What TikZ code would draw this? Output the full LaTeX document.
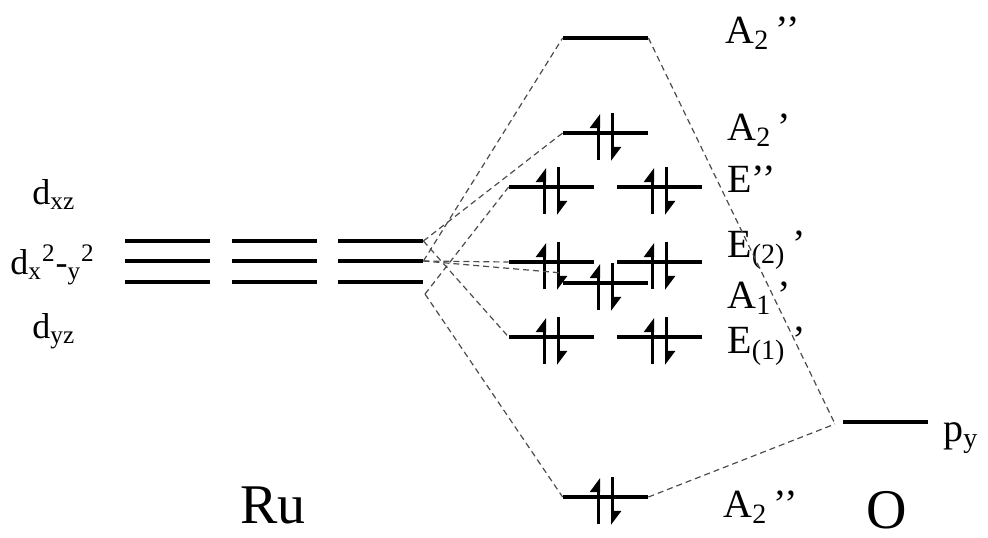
\documentclass[tikz,border=0pt]{standalone}
\usepackage{fontspec}
\setmainfont{Liberation Serif}
\usetikzlibrary{arrows.meta,calc,positioning}

\begin{document}
\begin{tikzpicture}[x=0.5pt, y=-0.5pt]
    \tikzset{
      lvl/.style={fill, inner sep=0pt, minimum width=42.5pt, minimum height=2.4pt},
      spin/.style={line width=1.8pt, -{Triangle[left, length=6pt, width=8.5pt]}},
      mix/.style={dash pattern=on 3pt off 2pt, line width=0.6pt, black!70},
      lab/.style={anchor=base west, inner sep=0pt, font=\fontsize{20}{24}\selectfont},
      orb/.style={anchor=base west, inner sep=0pt, font=\fontsize{18}{22}\selectfont},
      atom/.style={anchor=base west, inner sep=0pt, font=\fontsize{28}{32}\selectfont},
    }
    \useasboundingbox (0,0) rectangle (988,537);

    % Ru d levels
    \node[lvl] (rut1) at (167.5,241) {};
    \node[lvl] (rum1) at (167.5,261) {};
    \node[lvl] (rub1) at (167.5,282) {};
    \node[lvl] (rut2) at (274.5,241) {};
    \node[lvl] (rum2) at (274.5,261) {};
    \node[lvl] (rub2) at (274.5,282) {};
    \node[lvl] (rut3) at (380.5,241) {};
    \node[lvl] (rum3) at (380.5,261) {};
    \node[lvl] (rub3) at (380.5,282) {};
    \coordinate (rulow) at (425,294);

    \node[orb] (dxz) at (32,204) {d\textsubscript{xz}};
    \node[orb] (dxy) at (10,274) {d\textsubscript{x}\textsuperscript{2}-\textsubscript{y}\textsuperscript{2}};
    \node[orb] (dyz) at (32,338) {d\textsubscript{yz}};
    \node[atom] (ru) at (240,523) {Ru};

    % molecular levels
    \node[lvl] (a2top) at (605.5,38) {};
    \node[lvl] (a2p) at (605.5,133) {};
    \node[lvl] (epa) at (551.5,187) {};
    \node[lvl] (epb) at (659.5,187) {};
    \node[lvl] (e2a) at (551.5,262) {};
    \node[lvl] (e2b) at (659.5,262) {};
    \node[lvl] (a1) at (605.5,283) {};
    \node[lvl] (e1a) at (551.5,337) {};
    \node[lvl] (e1b) at (659.5,337) {};
    \node[lvl] (a2bot) at (605.5,497) {};

    \node[lab] at (725,43) {A\textsubscript{2}\,’’};
    \node[lab] at (727,140) {A\textsubscript{2}\,’};
    \node[lab] at (727,192) {E’’};
    \node[lab] at (727,257) {E\textsubscript{(2)}\,’};
    \node[lab] at (727,308) {A\textsubscript{1}\,’};
    \node[lab] at (727,353) {E\textsubscript{(1)}\,’};
    \node[lab] at (723,517) {A\textsubscript{2}\,’’};

    % O p level
    \node[lvl] (py) at (885.5,422) {};
    \coordinate (pyjoin) at (835,424);
    \node[lab] at (943,441) {p\textsubscript{y}};
    \node[atom] (o) at (866,528) {O};

    % electron pairs
    \foreach \n in {a2p,epa,epb,e2a,e2b,a1,e1a,e1b,a2bot} {
      \draw[spin] ($(\n)+(-7,27)$) -- ($(\n)+(-7,-19)$);
      \draw[spin] ($(\n)+(7,-20)$) -- ($(\n)+(7,28)$);
    }

    % correlation lines
    \draw[mix] (rum3.east) -- (a2top.west);
    \draw[mix] (rut3.east) -- (a2p.west);
    \draw[mix] (rulow) -- (epa.west);
    \draw[mix] (rum3.east) -- (e2a.west);
    \draw[mix] (rum3.east) -- ([yshift=5pt]a1.west);
    \draw[mix] (rut3.east) -- (e1a.west);
    \draw[mix] (rulow) -- (a2bot.west);
    \draw[mix] (a2top.east) -- (pyjoin);
    \draw[mix] (a2bot.east) -- (pyjoin);
\end{tikzpicture}
\end{document}
